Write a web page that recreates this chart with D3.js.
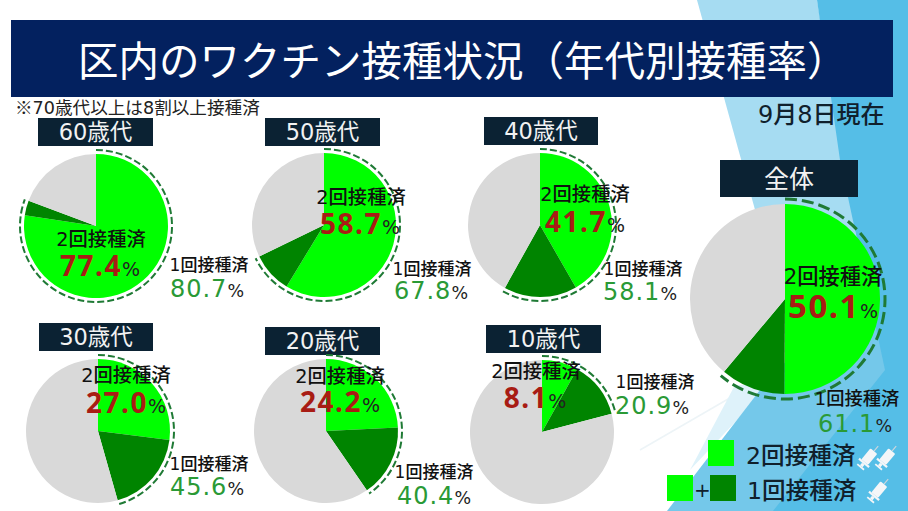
<!DOCTYPE html>
<html lang="ja">
<head>
<meta charset="utf-8">
<script src="https://cdn.jsdelivr.net/npm/d3@7"></script>
<style>
  html, body { margin: 0; padding: 0; background: #fff; }
  svg { display: block; }
  text { font-family: "DejaVu Sans", "Noto Sans CJK JP", sans-serif; }
</style>
</head>
<body>
<div id="chart"></div>
<script>
const groups = ['60歳代', '50歳代', '40歳代', '30歳代', '20歳代', '10歳代', '全体'];
const twoDoses = [77.4, 58.7, 41.7, 27.0, 24.2, 8.1, 50.1];
const oneDose = [80.7, 67.8, 58.1, 45.6, 40.4, 20.9, 61.1];

const TITLE = '区内のワクチン接種状況（年代別接種率）';
const NOTE_MARK = '※';
const NOTE = '70歳代以上は8割以上接種済';
const AS_OF = '9月8日現在';
const LABEL_TWO = '2回接種済';
const LABEL_ONE = '1回接種済';

const width = 908;
const height = 511;

// layout per group: pie centre/radius, header box, text anchors
const layout = [
  { cx: 96, cy: 226, r: 72, box: [38, 118, 115, 28], two: [101, 246], twoV: [100, 276], one: [209, 271], oneV: [207, 297] },
  { cx: 324, cy: 225, r: 72, box: [265, 118, 115, 28], two: [361, 204], twoV: [360, 234], one: [432, 275], oneV: [431, 299] },
  { cx: 540, cy: 225, r: 72, box: [484, 117, 114, 28], two: [585, 201], twoV: [585, 232], one: [643, 275], oneV: [640, 300] },
  { cx: 98, cy: 431, r: 72, box: [39, 323, 114, 28], two: [126, 382], twoV: [126, 413], one: [209, 470], oneV: [207, 495] },
  { cx: 326, cy: 431, r: 72, box: [265, 327, 115, 28], two: [340, 383], twoV: [340, 412], one: [434, 478], oneV: [434, 504] },
  { cx: 542, cy: 432, r: 72, box: [486, 325, 115, 28], two: [536, 378], twoV: [535, 408], one: [655, 388], oneV: [652, 414] },
  { cx: 785, cy: 299, r: 95, box: [720, 160, 138, 37], two: [833, 284], twoV: [833, 318], one: [857, 405], oneV: [855, 432], big: true }
];

const color = d3.scaleOrdinal()
  .domain(['two', 'one', 'none'])
  .range(['#00ff00', '#008400', '#d9d9d9']);

const svg = d3.select('#chart').append('svg')
  .attr('width', width)
  .attr('height', height)
  .attr('viewBox', [0, 0, width, height]);

// background shapes
const bg = svg.append('g');
bg.append('rect').attr('width', width).attr('height', height).attr('fill', '#fff');
bg.append('path').attr('d', 'M640,450L735,395').attr('stroke', '#edf4f7').attr('stroke-width', 1.5).attr('fill', 'none');
bg.append('path').attr('d', 'M735,385L770,385L690,470Z').attr('fill', '#def2fa');
bg.append('path').attr('d', 'M697,0L817,0L870,320L780,300Z').attr('fill', '#a6dcf2');
bg.append('path').attr('d', 'M667,511L760,390L850,290L908,250L908,511Z').attr('fill', '#74c8ea');
bg.append('path').attr('d', 'M817,0L908,0L908,511L773,511L885,370L840,160Z').attr('fill', '#55bee7');

// title band
svg.append('rect').attr('x', 11).attr('y', 20).attr('width', 882).attr('height', 77).attr('fill', '#03215f');
svg.append('text').attr('x', 78).attr('y', 76)
  .attr('font-size', 40.5).attr('fill', '#fff').text(TITLE);

const note = svg.append('text').attr('x', 15).attr('y', 114).attr('font-size', 17.6).attr('fill', '#222');
note.append('tspan').attr('font-family', '"Noto Sans CJK JP", sans-serif').text(NOTE_MARK);
note.append('tspan').text(NOTE);
svg.append('text').attr('x', 758).attr('y', 123).attr('font-size', 24).attr('font-weight', 500).attr('fill', '#10202c').text(AS_OF);

const pie = d3.pie().sort(null).value((d) => d.value);
const fmt = d3.format('.1f');
const angle = d3.scaleLinear().domain([0, 100]).range([0, 2 * Math.PI]);

groups.forEach((name, i) => {
  const p = layout[i];
  const slices = [
    { key: 'two', value: twoDoses[i] },
    { key: 'one', value: oneDose[i] - twoDoses[i] },
    { key: 'none', value: 100 - oneDose[i] }
  ];

  const g = svg.append('g').attr('class', 'pie-group');

  g.append('rect')
    .attr('x', p.box[0]).attr('y', p.box[1]).attr('width', p.box[2]).attr('height', p.box[3])
    .attr('fill', '#0b2233');
  g.append('text')
    .attr('x', p.box[0] + p.box[2] / 2)
    .attr('y', p.box[1] + p.box[3] / 2 + (p.big ? 9 : 8))
    .attr('text-anchor', 'middle')
    .attr('font-size', p.big ? 25 : 22.5)
    .attr('fill', '#f2f2f2')
    .text(name);

  const pieG = g.append('g').attr('transform', `translate(${p.cx},${p.cy})`);
  pieG.selectAll('path.slice')
    .data(pie(slices))
    .join('path')
    .attr('class', 'slice')
    .attr('d', d3.arc().innerRadius(0).outerRadius(p.r))
    .attr('fill', (d) => color(d.data.key));

  // dashed ring runs from 0 to the one-dose share
  const ringR = p.r + (p.big ? 5 : 4);
  const ring = d3.path();
  ring.arc(0, 0, ringR, -Math.PI / 2, -Math.PI / 2 + angle(oneDose[i]));
  pieG.append('path')
    .attr('d', ring.toString())
    .attr('fill', 'none')
    .attr('stroke', '#1f7a35')
    .attr('stroke-width', p.big ? 3 : 2)
    .attr('stroke-dasharray', p.big ? '12 5' : '7 3');

  g.append('text')
    .attr('x', p.two[0]).attr('y', p.two[1]).attr('text-anchor', 'middle')
    .attr('font-size', p.big ? 21.3 : 19.3).attr('font-weight', 500).attr('fill', '#111')
    .text(LABEL_TWO);
  const twoV = g.append('text')
    .attr('x', p.twoV[0]).attr('y', p.twoV[1]).attr('text-anchor', 'middle');
  twoV.append('tspan')
    .attr('font-family', '"Noto Sans", sans-serif')
    .attr('font-size', p.big ? 33 : 28).attr('font-weight', 700).attr('fill', '#a81c14')
    .attr('letter-spacing', 1.5)
    .text(fmt(twoDoses[i]));
  twoV.append('tspan')
    .attr('font-size', 19).attr('fill', '#222').text('%');

  g.append('text')
    .attr('x', p.one[0]).attr('y', p.one[1]).attr('text-anchor', 'middle')
    .attr('font-size', p.big ? 18.3 : 17).attr('font-weight', 500).attr('fill', '#111')
    .text(LABEL_ONE);
  const oneV = g.append('text')
    .attr('x', p.oneV[0]).attr('y', p.oneV[1]).attr('text-anchor', 'middle');
  oneV.append('tspan')
    .attr('font-size', 24).attr('fill', '#2a9a36').attr('letter-spacing', 1)
    .text(fmt(oneDose[i]));
  oneV.append('tspan')
    .attr('font-size', 17.5).attr('fill', '#222').text('%');
});

// legend
const legend = svg.append('g');
legend.append('rect').attr('x', 708).attr('y', 440).attr('width', 26).attr('height', 26).attr('fill', color('two'));
legend.append('rect').attr('x', 667).attr('y', 475).attr('width', 26).attr('height', 26).attr('fill', color('two'));
legend.append('rect').attr('x', 710).attr('y', 475).attr('width', 26).attr('height', 26).attr('fill', color('one'));
legend.append('text').attr('x', 694).attr('y', 497).attr('font-size', 20).attr('fill', '#10202c').text('+');
legend.append('text').attr('x', 746).attr('y', 464).attr('font-size', 23.6).attr('font-weight', 500).attr('fill', '#10202c').text(LABEL_TWO);
legend.append('text').attr('x', 747).attr('y', 499).attr('font-size', 23.6).attr('font-weight', 500).attr('fill', '#10202c').text(LABEL_ONE);

// small white syringe icon
function syringe(x, y, s) {
  const t = legend.append('g')
    .attr('transform', `translate(${x},${y}) rotate(40) scale(${s})`)
    .attr('fill', '#f4f6f8');
  t.append('rect').attr('x', -4).attr('y', -7).attr('width', 8).attr('height', 13).attr('rx', 1);
  t.append('rect').attr('x', -6).attr('y', 6).attr('width', 12).attr('height', 2);
  t.append('rect').attr('x', -1.5).attr('y', 8).attr('width', 3).attr('height', 3);
  t.append('rect').attr('x', -4).attr('y', 11).attr('width', 8).attr('height', 1.6);
  t.append('rect').attr('x', -0.5).attr('y', -13).attr('width', 1).attr('height', 6).attr('fill', '#cfd6dc');
}
syringe(869, 457, 1.1);
syringe(887, 457, 1.1);
syringe(879, 490, 1.1);
</script>
</body>
</html>
